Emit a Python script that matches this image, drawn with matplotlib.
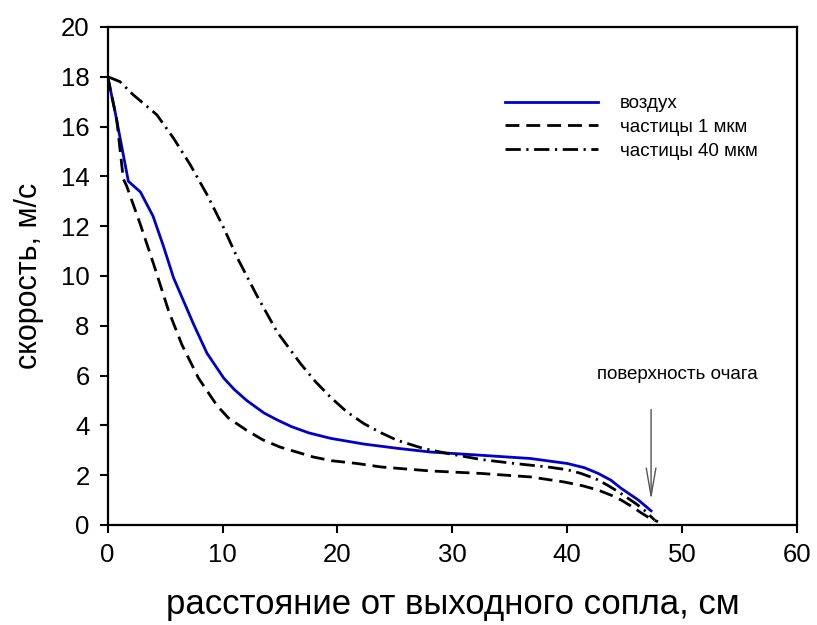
import matplotlib
matplotlib.use("Agg")
import matplotlib.pyplot as plt

plt.rcParams['font.family'] = ['Liberation Sans', 'DejaVu Sans']

# воздух
x_air = [0, 0.64, 1.8, 2.85, 3.95, 4.85, 5.73, 6.6, 7.47, 8.64, 10.1, 11.0, 12.1, 13.6,
         14.75, 16.0, 17.5, 19.4, 22.3, 25.2, 28.1, 32.5, 36.8, 40.0, 41.5, 42.7, 43.8,
         44.7, 45.5, 46.2, 47.3]
y_air = [18, 16.6, 13.8, 13.37, 12.4, 11.2, 9.93, 9.0, 8.07, 6.9, 5.9, 5.45, 5.0, 4.5,
         4.22, 3.95, 3.7, 3.48, 3.25, 3.08, 2.93, 2.8, 2.67, 2.47, 2.3, 2.07, 1.8,
         1.47, 1.22, 1.0, 0.57]

# частицы 1 мкм
x_p1 = [0, 0.78, 1.36, 1.66, 2.82, 3.98, 5.3, 6.45, 7.9, 9.51, 10.5, 12.1, 13.5, 15.0, 17.9,
        19.5, 21.7, 23.8, 28.1, 32.5, 36.8, 39.7, 41.3, 42.7, 43.8, 44.7, 45.7, 46.5, 47.2, 47.9]
y_p1 = [18, 16.3, 13.9, 13.6, 12.1, 10.5, 8.6, 7.25, 5.9, 4.8, 4.3, 3.8, 3.42, 3.13, 2.73,
        2.58, 2.47, 2.33, 2.17, 2.07, 1.93, 1.73, 1.58, 1.4, 1.2, 1.0, 0.72, 0.47, 0.27, 0.13]

# частицы 40 мкм
x_p40 = [0, 1.07, 2.23, 4.28, 5.73, 7.18, 8.64, 10.1, 11.26, 13.0, 14.75, 16.8, 18.1, 19.4, 20.8,
         22.3, 23.8, 25.2, 27.5, 29.6, 32.5, 35.4, 38.3, 40.0, 41.2, 42.5, 43.5, 44.5, 45.3, 46.0,
         46.7, 47.6]
y_p40 = [18, 17.8, 17.27, 16.47, 15.53, 14.47, 13.27, 11.93, 10.75, 9.2, 7.75, 6.47, 5.75, 5.13, 4.55,
         4.07, 3.7, 3.4, 3.07, 2.87, 2.63, 2.47, 2.33, 2.22, 2.07, 1.85, 1.6, 1.32, 1.07, 0.85,
         0.6, 0.2]

labels = ['воздух', 'частицы 1 мкм', 'частицы 40 мкм']
x_ticks = [0, 10, 20, 30, 40, 50, 60]
y_ticks = [0, 2, 4, 6, 8, 10, 12, 14, 16, 18, 20]

fig = plt.figure(figsize=(8.17, 6.25), dpi=100)
ax = fig.add_axes([0.1318, 0.16, 0.9755 - 0.1318, 0.957 - 0.16])

ax.plot(x_air, y_air, color='#0000CC', lw=2.0, label=labels[0])
ax.plot(x_p1, y_p1, color='black', lw=2.0, dashes=(5, 2.5), label=labels[1])
ax.plot(x_p40, y_p40, color='black', lw=2.0, dashes=(5.5, 2, 0.8, 2), label=labels[2])

ax.set_xlim(0, 60)
ax.set_ylim(0, 20)
ax.set_xticks(x_ticks)
ax.set_yticks(y_ticks)
ax.tick_params(direction='out', length=6, width=1.5, labelsize=18.5, pad=7)
for s in ax.spines.values():
    s.set_linewidth(1.6)

ax.set_xlabel('расстояние от выходного сопла, см', fontsize=25, labelpad=15)
ax.set_ylabel('скорость, м/с', fontsize=22, labelpad=12)

ax.annotate('', xy=(47.3, 0.9), xytext=(47.3, 4.75),
            arrowprops=dict(arrowstyle='->,head_length=2.0,head_width=0.35', color='#555555', lw=1.0))
ax.text(49.6, 6.05, 'поверхность очага', fontsize=13.5, ha='center', va='center')

leg = ax.legend(loc='upper left', bbox_to_anchor=(0.563, 0.882), frameon=False, fontsize=13.5,
                handlelength=4.95, handletextpad=1.15, labelspacing=0.36, borderpad=0)

fig.savefig('out.png', dpi=100)
